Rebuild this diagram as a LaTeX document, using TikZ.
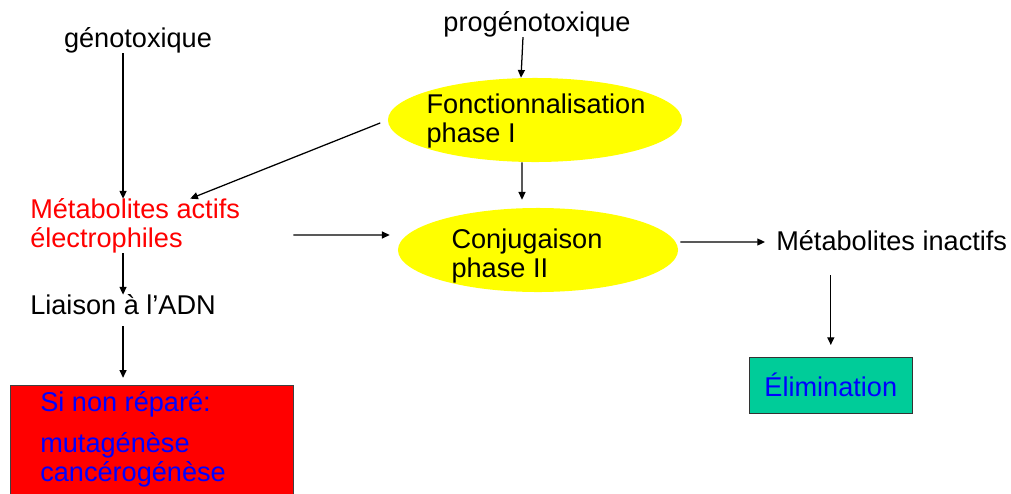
\documentclass[tikz,border=0pt]{standalone}
\usepackage{fontspec}
\setmainfont{Liberation Sans}
\usetikzlibrary{shapes.geometric,arrows.meta}
\definecolor{jaune}{RGB}{255,255,0}
\definecolor{vertelim}{RGB}{0,204,153}

\begin{document}
\begin{tikzpicture}[x=0.025cm, y=-0.025cm,
  txt/.style={inner sep=0pt, anchor=west, align=left,
    font=\fontsize{19.3}{20.3}\selectfont},
  phase/.style={ellipse, fill=jaune, inner sep=0pt, minimum height=2.1cm},
  arr/.style={-{Triangle[length=5.5pt,width=5pt]}, line width=0.9pt}]
\clip (0,0) rectangle (1011,493);

\node[txt, anchor=center] (geno) at (138,40) {génotoxique};
\node[txt, anchor=center] (progeno) at (537,24) {progénotoxique};
\node[phase, minimum width=7.35cm] (phase1) at (535,120) {};
\node[txt, anchor=center] (fonct) at ([xshift=0.025cm,yshift=-0.025cm]phase1.center) {Fonctionnalisation\\phase I};
\node[phase, minimum width=7cm] (phase2) at (538,250) {};
\node[txt, anchor=center] (conj) at ([xshift=-0.275cm,yshift=-0.15cm]phase2.center) {Conjugaison\\phase II};
\node[txt, red] (actifs) at (30,226) {Métabolites actifs\\électrophiles};
\node[txt] (liaison) at (30,305) {Liaison à l’ADN};
\node[txt] (inactifs) at (776,241) {Métabolites inactifs};

% boites du bas
\node[draw=black!75, fill=red, minimum width=7.075cm, minimum height=3.2cm,
  anchor=north west] (rouge) at (10,385) {};
\node[txt, blue] (sinon) at (40,404) {Si non réparé:};
\node[txt, blue] (muta) at (40,460) {mutagénèse\\cancérogénèse};
\node[draw=black!80, fill=vertelim, minimum width=4.075cm, minimum height=1.4cm,
  anchor=north west, font=\fontsize{19.3}{20.3}\selectfont, text=blue]
  (elim) at (749,357) {Élimination};

\draw[arr] (geno.south -| liaison) -- (actifs.north -| liaison);
\draw[arr] (actifs.south -| liaison) -- (liaison.north);
\draw[arr, shorten <=0.27cm, shorten >=0.18cm] (liaison.south) -- (rouge.north -| liaison);
\draw[arr] ([xshift=-0.35cm]progeno.south) -- ([xshift=-0.35cm]phase1.north);
\draw[arr, shorten >=0.2cm] ([xshift=-0.325cm]phase1.south) -- ([xshift=-0.4cm]phase2.north);
\draw[arr, shorten <=0.2cm] (phase1.west) -- ([xshift=-1.25cm]actifs.north east);
\draw[arr] ([xshift=1.325cm,yshift=-0.225cm]actifs.east) -- ([xshift=-0.2cm,yshift=0.375cm]phase2.west);
\draw[arr] ([xshift=0.05cm,yshift=0.2cm]phase2.east) -- ([xshift=-0.275cm,yshift=-0.025cm]inactifs.west);
\draw[arr, shorten <=0.6cm, shorten >=0.3cm] (inactifs.south -| elim.north) -- (elim.north);
\end{tikzpicture}
\end{document}
